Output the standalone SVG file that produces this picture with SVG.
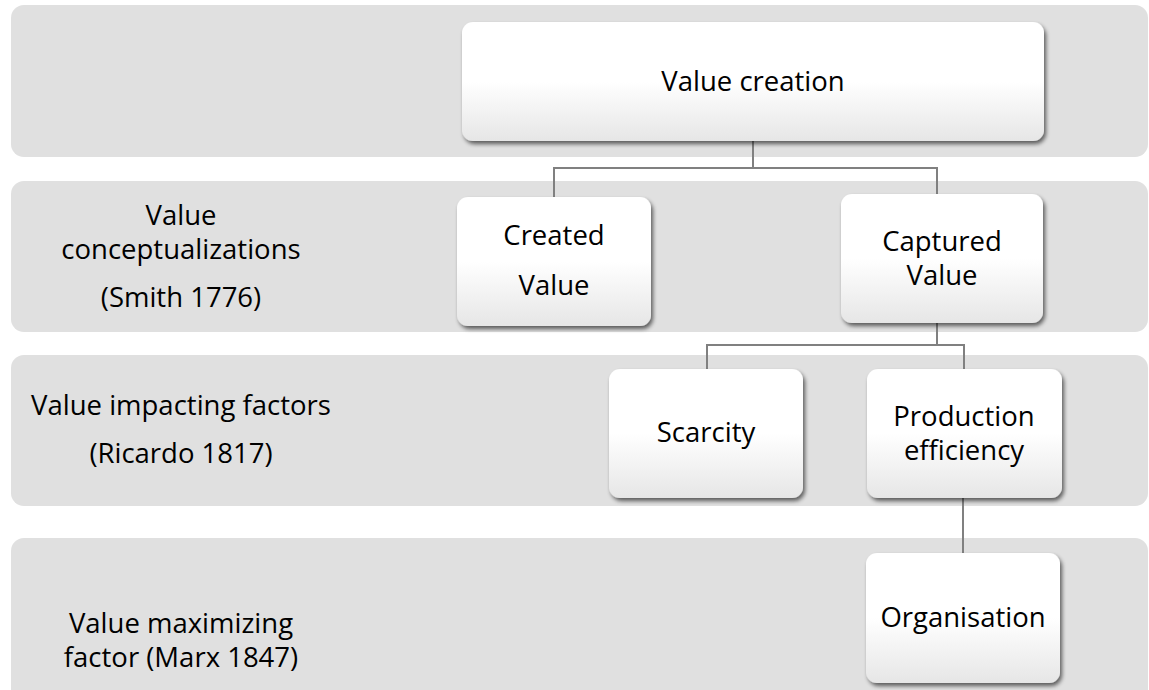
<svg xmlns="http://www.w3.org/2000/svg" width="1149" height="690" viewBox="0 0 1149 690">
  <defs>
    <linearGradient id="nodeFill" x1="0" y1="0" x2="0" y2="1">
      <stop offset="0" stop-color="#ffffff"/>
      <stop offset="0.5" stop-color="#ffffff"/>
      <stop offset="1" stop-color="#e6e6e6"/>
    </linearGradient>
    <filter id="drop" x="-10%" y="-10%" width="120%" height="130%">
      <feGaussianBlur in="SourceAlpha" stdDeviation="2.2"/>
      <feOffset dx="1.5" dy="3" result="off"/>
      <feComponentTransfer><feFuncA type="linear" slope="0.6"/></feComponentTransfer>
      <feMerge><feMergeNode/><feMergeNode in="SourceGraphic"/></feMerge>
    </filter>
  </defs>
  <style>
    .band { fill: #e0e0e0; }
    .node rect { fill: url(#nodeFill); filter: url(#drop); }
    text { font-family: "Open Sans", "Liberation Sans", sans-serif; font-size: 27.5px; fill: #000; text-anchor: middle; }
    .link { fill: none; stroke: #808080; stroke-width: 2; }
  </style>

  <rect width="1149" height="690" fill="#ffffff"/>

  <!-- horizontal level bands -->
  <g id="bands">
    <rect class="band" x="11" y="5" width="1137" height="152" rx="13"/>
    <rect class="band" x="11" y="181" width="1137" height="151" rx="13"/>
    <rect class="band" x="11" y="355" width="1137" height="151" rx="13"/>
    <rect class="band" x="11" y="538" width="1137" height="170" rx="13"/>
  </g>

  <!-- level labels -->
  <g id="level-labels">
    <text x="181" y="225">Value</text>
    <text x="181" y="259">conceptualizations</text>
    <text x="181" y="307">(Smith 1776)</text>
    <text x="181" y="415">Value impacting factors</text>
    <text x="181" y="463">(Ricardo 1817)</text>
    <text x="181" y="633">Value maximizing</text>
    <text x="181" y="667">factor (Marx 1847)</text>
  </g>

  <!-- connectors -->
  <g id="connectors">
    <path class="link" d="M753 141 V168 M554 197 V168 H937 V194"/>
    <path class="link" d="M937 323 V345 M707 369 V345 H964 V369"/>
    <path class="link" d="M963 498 V553"/>
  </g>

  <g id="value-creation" class="node">
    <rect x="462" y="22" width="582" height="119" rx="11"/>
    <text x="753" y="91">Value creation</text>
  </g>
  <g id="created-value" class="node">
    <rect x="457" y="197" width="194" height="129" rx="11"/>
    <text x="554" y="245">Created</text>
    <text x="554" y="295">Value</text>
  </g>
  <g id="captured-value" class="node">
    <rect x="841" y="194" width="202" height="129" rx="11"/>
    <text x="942" y="251">Captured</text>
    <text x="942" y="285">Value</text>
  </g>
  <g id="scarcity" class="node">
    <rect x="609" y="369" width="194" height="129" rx="11"/>
    <text x="706" y="442">Scarcity</text>
  </g>
  <g id="production-efficiency" class="node">
    <rect x="867" y="369" width="195" height="129" rx="11"/>
    <text x="964" y="426">Production</text>
    <text x="964" y="460">efficiency</text>
  </g>
  <g id="organisation" class="node">
    <rect x="866" y="553" width="194" height="130" rx="11"/>
    <text x="963" y="627">Organisation</text>
  </g>
</svg>
